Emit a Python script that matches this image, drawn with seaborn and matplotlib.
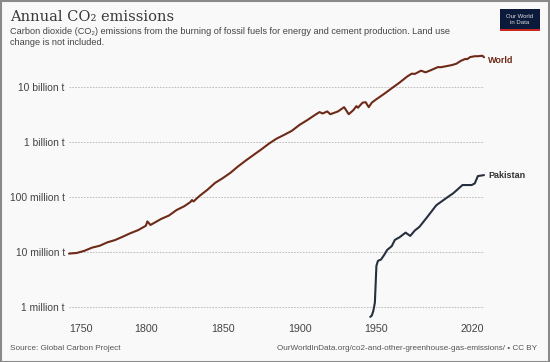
import numpy as np
import pandas as pd
import seaborn as sns
import matplotlib
matplotlib.use('Agg')
import matplotlib.pyplot as plt
from matplotlib.patches import Rectangle

# Annual CO2 emissions (tonnes)
WORLD_YEARS = [1750, 1755, 1760, 1765, 1770, 1775, 1780, 1785, 1790, 1795,
               1800, 1801, 1803, 1810, 1815, 1820, 1825, 1829, 1830, 1831,
               1835, 1840, 1845, 1850, 1855, 1860, 1865, 1870, 1875, 1880,
               1885, 1890, 1895, 1900, 1905, 1910, 1913, 1915, 1918, 1920,
               1925, 1929, 1932, 1935, 1937, 1938, 1941, 1943, 1945, 1947,
               1950, 1955, 1960, 1965, 1970, 1973, 1975, 1979, 1982, 1985,
               1990, 1992, 1995, 1999, 2002, 2005, 2008, 2009, 2011, 2014,
               2016, 2019, 2020]
WORLD_CO2 = [9.35e6, 9.6e6, 1.05e7, 1.2e7, 1.3e7, 1.5e7, 1.65e7, 1.9e7, 2.2e7, 2.5e7,
             3.0e7, 3.6e7, 3.1e7, 4.0e7, 4.6e7, 5.8e7, 6.8e7, 8.1e7, 8.8e7, 8.3e7,
             1.05e8, 1.35e8, 1.8e8, 2.2e8, 2.75e8, 3.6e8, 4.6e8, 5.8e8, 7.3e8, 9.3e8,
             1.15e9, 1.35e9, 1.6e9, 2.05e9, 2.5e9, 3.1e9, 3.5e9, 3.3e9, 3.6e9, 3.2e9,
             3.6e9, 4.3e9, 3.2e9, 3.8e9, 4.5e9, 4.2e9, 5.2e9, 5.3e9, 4.3e9, 5.2e9,
             6.0e9, 7.5e9, 9.5e9, 1.2e10, 1.55e10, 1.75e10, 1.73e10, 1.98e10, 1.85e10, 2.0e10,
             2.3e10, 2.29e10, 2.38e10, 2.5e10, 2.65e10, 3.0e10, 3.25e10, 3.2e10, 3.5e10, 3.63e10,
             3.63e10, 3.7e10, 3.48e10]

PAK_YEARS = [1946, 1947, 1948, 1949, 1950, 1951, 1953, 1955, 1957, 1960,
             1962, 1965, 1969, 1972, 1975, 1978, 1983, 1989, 1996, 2000,
             2006, 2012, 2014, 2016, 2018, 2020]
PAK_CO2 = [6.6e5, 7.0e5, 8.5e5, 1.2e6, 5.6e6, 6.9e6, 7.3e6, 8.8e6, 1.09e7, 1.28e7,
           1.66e7, 1.85e7, 2.25e7, 1.96e7, 2.46e7, 2.87e7, 4.3e7, 7.1e7, 9.8e7, 1.17e8,
           1.65e8, 1.65e8, 1.77e8, 2.4e8, 2.45e8, 2.5e8]

Y_TICKS = [1e6, 1e7, 1e8, 1e9, 1e10]
Y_LABELS = ['1 million t', '10 million t', '100 million t', '1 billion t', '10 billion t']
X_TICKS = [1750, 1800, 1850, 1900, 1950, 2020]

COLORS = {'World': '#6e2a18', 'Pakistan': '#27303f'}
BG = '#f9f9f9'


def build_frame():
    world = pd.DataFrame({'Year': WORLD_YEARS, 'CO2': WORLD_CO2, 'Entity': 'World'})
    pak = pd.DataFrame({'Year': PAK_YEARS, 'CO2': PAK_CO2, 'Entity': 'Pakistan'})
    return pd.concat([world, pak], ignore_index=True)


def plot(data):
    sns.set_theme(style='white')
    plt.rcParams['font.family'] = ['Liberation Sans', 'DejaVu Sans']

    W, H = 550, 362
    fig = plt.figure(figsize=(5.5, 3.62), dpi=100, facecolor=BG)
    # axes placed in pixel terms: x 69..484, y 50..312
    ax = fig.add_axes([69 / W, 1 - 312 / H, (484 - 69) / W, (312 - 50) / H])
    ax.set_facecolor(BG)

    sns.lineplot(data=data, x='Year', y='CO2', hue='Entity', palette=COLORS,
                 linewidth=1.5, legend=False, ax=ax, clip_on=False)

    ax.set_yscale('log')
    ax.set_ylim(10 ** 5.909, 10 ** 10.673)
    ax.set_xlim(1750, 2020)

    ax.set_yticks(Y_TICKS)
    ax.set_yticklabels(Y_LABELS)
    ax.yaxis.set_minor_locator(matplotlib.ticker.NullLocator())
    ax.tick_params(axis='y', length=0, pad=3, labelsize=7.4, labelcolor='#444444')
    ax.grid(axis='y', color='#b5b5b5', linestyle=(0, (2, 1.5)), linewidth=0.6)
    ax.grid(axis='x', visible=False)

    ax.set_xticks(X_TICKS)
    ax.set_xticklabels([str(x) for x in X_TICKS])
    ax.tick_params(axis='x', length=3, width=0.8, color='#999999', pad=6,
                   labelsize=7.7, labelcolor='#444444', direction='out')
    labels = ax.get_xticklabels()
    labels[0].set_ha('left')
    labels[-1].set_ha('right')

    for s in ax.spines.values():
        s.set_visible(False)
    ax.set_xlabel('')
    ax.set_ylabel('')

    # end-of-line labels
    ax.annotate('World', xy=(WORLD_YEARS[-1], WORLD_CO2[-1]), xytext=(3, -2),
                textcoords='offset points', fontsize=6.5, color=COLORS['World'],
                fontweight='bold', va='center', annotation_clip=False)
    ax.annotate('Pakistan', xy=(PAK_YEARS[-1], PAK_CO2[-1]), xytext=(3, 0),
                textcoords='offset points', fontsize=6.5, color='#333333',
                fontweight='bold', va='center', annotation_clip=False)

    # title, subtitle, footer
    fig.text(10 / W, 1 - 17 / H, 'Annual CO\u2082 emissions', family='DejaVu Serif',
             fontsize=10.5, color='#3a3a3a', va='center')
    fig.text(10 / W, 1 - 32 / H,
             'Carbon dioxide (CO\u2082) emissions from the burning of fossil fuels for energy and cement production. Land use',
             fontsize=6.55, color='#444444', va='center')
    fig.text(10 / W, 1 - 42.5 / H, 'change is not included.', fontsize=6.55, color='#444444',
             va='center')
    fig.text(10 / W, 1 - 348 / H, 'Source: Global Carbon Project', fontsize=5.9,
             color='#555555', va='center')
    fig.text(537 / W, 1 - 348 / H,
             'OurWorldInData.org/co2-and-other-greenhouse-gas-emissions/ \u2022 CC BY',
             fontsize=5.85, color='#555555', va='center', ha='right')

    # logo
    fig.patches.append(Rectangle((500 / W, 1 - 30 / H), 40 / W, 21 / H,
                                 transform=fig.transFigure, facecolor='#0b1a3a',
                                 edgecolor='none'))
    fig.patches.append(Rectangle((500 / W, 1 - 31 / H), 40 / W, 2 / H,
                                 transform=fig.transFigure, facecolor='#c8281e',
                                 edgecolor='none'))
    fig.text(520 / W, 1 - 19.5 / H, 'Our World\nin Data', fontsize=4.3, color='#dddddd',
             ha='center', va='center', linespacing=1.1)

    # frame
    fig.patches.append(Rectangle((0.5 / W, 0.5 / H), 1 - 1.5 / W, 1 - 1.5 / H,
                                 transform=fig.transFigure, facecolor='none',
                                 edgecolor='#8a8a8a', linewidth=1.5))

    fig.savefig('out.png', dpi=100, facecolor=BG)


if __name__ == '__main__':
    data = build_frame()
    plot(data)
